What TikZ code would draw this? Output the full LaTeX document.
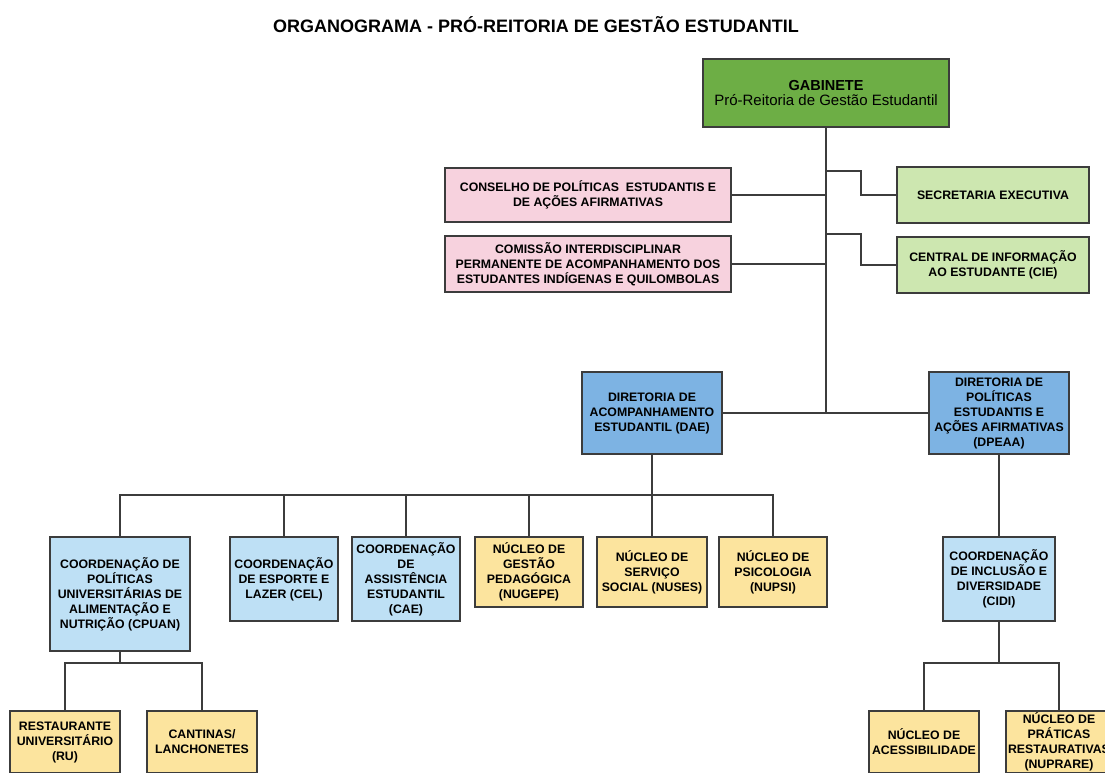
\documentclass[tikz,border=0pt]{standalone}
\usepackage{fontspec}
\setmainfont{Liberation Sans}
\definecolor{gabgreen}{HTML}{6DAE45}
\definecolor{ltgreen}{HTML}{CDE7B0}
\definecolor{pinkc}{HTML}{F7D2DE}
\definecolor{bluec}{HTML}{7DB3E3}
\definecolor{ltblue}{HTML}{BEE0F5}
\definecolor{yellowc}{HTML}{FCE49E}
\definecolor{linec}{HTML}{3C3C3C}
\begin{document}
\begin{tikzpicture}[x=1pt,y=-1pt,
  box/.style={draw=linec, line width=2pt, align=center, inner sep=0pt,
    font=\bfseries\fontsize{12.3}{15}\selectfont},
  conn/.style={draw=linec, line width=2pt},
  bw/.style 2 args={minimum width=#1, minimum height=#2}]
\useasboundingbox (0,0) rectangle (1105,772);
\clip (0,0) rectangle (1105,772);
\fill[white] (0,0) rectangle (1105,772);

\node[font=\bfseries\fontsize{18}{20}\selectfont] (title) at (536,25) {ORGANOGRAMA - PRÓ-REITORIA DE GESTÃO ESTUDANTIL};

\node[box, fill=gabgreen, bw={246}{68}] (gab) at (826,93)
  {{\fontsize{14.5}{17}\selectfont GABINETE}\\{\mdseries\fontsize{15}{17}\selectfont Pró-Reitoria de Gestão Estudantil}};

\node[box, fill=pinkc, bw={286}{54}] (p1) at (588,195) {CONSELHO DE POLÍTICAS\ \ ESTUDANTIS E\\DE AÇÕES AFIRMATIVAS};
\node[box, fill=pinkc, bw={286}{56}] (p2) at (588,264) {COMISSÃO INTERDISCIPLINAR\\PERMANENTE DE ACOMPANHAMENTO DOS\\ESTUDANTES INDÍGENAS E QUILOMBOLAS};
\node[box, fill=ltgreen, bw={192}{56}] (g1) at (993,195) {SECRETARIA EXECUTIVA};
\node[box, fill=ltgreen, bw={192}{56}] (g2) at (993,265) {CENTRAL DE INFORMAÇÃO\\AO ESTUDANTE (CIE)};

\node[box, fill=bluec, bw={140}{82}] (dae) at (652,413) {DIRETORIA DE\\ACOMPANHAMENTO\\ESTUDANTIL (DAE)};
\node[box, fill=bluec, bw={140}{82}] (dpeaa) at (999,413) {DIRETORIA DE\\POLÍTICAS\\ESTUDANTIS E\\AÇÕES AFIRMATIVAS\\(DPEAA)};

\node[box, fill=ltblue, bw={140}{114}] (cpuan) at (120,594) {COORDENAÇÃO DE\\POLÍTICAS\\UNIVERSITÁRIAS DE\\ALIMENTAÇÃO E\\NUTRIÇÃO (CPUAN)};
\node[box, fill=ltblue, bw={108}{84}] (cel) at (284,579) {COORDENAÇÃO\\DE ESPORTE E\\LAZER (CEL)};
\node[box, fill=ltblue, bw={108}{84}] (cae) at (406,579) {COORDENAÇÃO\\DE\\ASSISTÊNCIA\\ESTUDANTIL\\(CAE)};
\node[box, fill=yellowc, bw={108}{70}] (nugepe) at (529,572) {NÚCLEO DE\\GESTÃO\\PEDAGÓGICA\\(NUGEPE)};
\node[box, fill=yellowc, bw={110}{70}] (nuses) at (652,572) {NÚCLEO DE\\SERVIÇO\\SOCIAL (NUSES)};
\node[box, fill=yellowc, bw={108}{70}] (nupsi) at (773,572) {NÚCLEO DE\\PSICOLOGIA\\(NUPSI)};
\node[box, fill=ltblue, bw={112}{84}] (cidi) at (999,579) {COORDENAÇÃO\\DE INCLUSÃO E\\DIVERSIDADE\\(CIDI)};

\node[box, fill=yellowc, bw={110}{62}] (ru) at (65,742) {RESTAURANTE\\UNIVERSITÁRIO\\(RU)};
\node[box, fill=yellowc, bw={110}{62}] (cant) at (202,742) {CANTINAS/\\LANCHONETES};
\node[box, fill=yellowc, bw={110}{62}] (acess) at (924,742) {NÚCLEO DE\\ACESSIBILIDADE};
\node[box, fill=yellowc, bw={106}{62}] (nuprare) at (1059,742) {NÚCLEO DE\\PRÁTICAS\\RESTAURATIVAS\\(NUPRARE)};

\coordinate (b1) at (0,495);
\coordinate (b3) at (0,663);
\coordinate (t1) at (826,171);
\coordinate (t2) at (826,234);

% trunk
\draw[conn] (gab.south) -- (gab.south |- dae.east);
\draw[conn] (dae.east) -- (dpeaa.west);
\draw[conn] (p1.east) -- (p1.east -| gab.south);
\draw[conn] (p2.east) -- (p2.east -| gab.south);
\draw[conn] (t1) -- ++(35,0) |- (g1.west);
\draw[conn] (t2) -- ++(35,0) |- (g2.west);

% DAE children
\draw[conn] (dae.south) -- (dae.south |- b1);
\draw[conn] (cpuan.north) -- (cpuan.north |- b1) -| (nupsi.north);
\draw[conn] (cel.north) -- (cel.north |- b1);
\draw[conn] (cae.north) -- (cae.north |- b1);
\draw[conn] (nugepe.north) -- (nugepe.north |- b1);
\draw[conn] (nuses.north) -- (nuses.north |- b1);

% DPEAA children
\draw[conn] (dpeaa.south) -- (cidi.north);
\draw[conn] (cidi.south) -- (cidi.south |- b3);
\draw[conn] (acess.north) -- (acess.north |- b3) -| (nuprare.north);

% CPUAN children
\draw[conn] (cpuan.south) -- (cpuan.south |- b3);
\draw[conn] (ru.north) -- (ru.north |- b3) -| (cant.north);
\end{tikzpicture}
\end{document}
